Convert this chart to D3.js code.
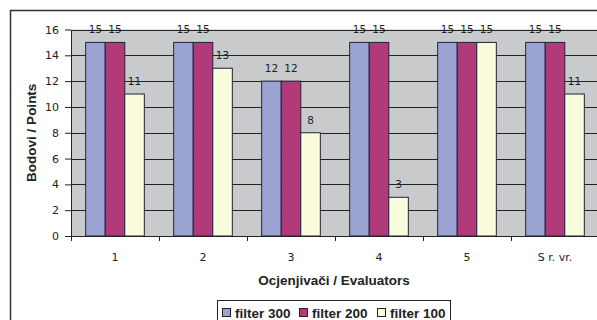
<!DOCTYPE html>
<html>
<head>
<meta charset="utf-8">
<script src="https://cdn.jsdelivr.net/npm/d3@7"></script>
<style>
  body { margin: 0; background: #fff; }
  svg { display: block; }
</style>
</head>
<body>
<svg id="chart" width="597" height="320"></svg>
<script>
// Evaluator scores per filter setting
const categories = ["1", "2", "3", "4", "5", "S r. vr."];
const seriesNames = ["filter 300", "filter 200", "filter 100"];
const filter300 = [15, 15, 12, 15, 15, 15];
const filter200 = [15, 15, 12, 15, 15, 15];
const filter100 = [11, 13, 8, 3, 15, 11];
const yTicks = [0, 2, 4, 6, 8, 10, 12, 14, 16];
const seriesColors = ["#9BA3D3", "#B33A78", "#FAFADC"];

const series = [filter300, filter200, filter100];
const svg = d3.select("#chart");

const plot = { left: 71, right: 599, top: 29.5, bottom: 236 };
const labelFont = "DejaVu Sans, Verdana, sans-serif";
const titleFont = "Liberation Sans, Arial, sans-serif";

// Outer chart frame (runs past the visible area on right/bottom)
svg.append("rect")
  .attr("x", 10.5).attr("y", 10.5)
  .attr("width", 620).attr("height", 340)
  .attr("fill", "#fff").attr("stroke", "#333").attr("stroke-width", 1.5);

const x0 = d3.scaleBand().domain(categories).range([plot.left, plot.right]).paddingInner(0).paddingOuter(0);
const x1 = d3.scaleBand().domain(seriesNames).range([0, x0.bandwidth()]).paddingInner(0).paddingOuter(0.75);
const y = d3.scaleLinear().domain([0, 16]).range([plot.bottom, plot.top]);

// Plot background
svg.append("rect")
  .attr("x", plot.left).attr("y", plot.top)
  .attr("width", plot.right - plot.left).attr("height", plot.bottom - plot.top)
  .attr("fill", "#C8CACC");

// Horizontal gridlines
svg.append("g").selectAll("line").data(yTicks.filter(d => d > 0)).join("line")
  .attr("x1", plot.left).attr("x2", plot.right)
  .attr("y1", d => Math.round(y(d)) + 0.5).attr("y2", d => Math.round(y(d)) + 0.5)
  .attr("stroke", "#222").attr("stroke-width", 1);

// Bars with value labels
const groups = svg.append("g").selectAll("g").data(categories).join("g")
  .attr("transform", d => `translate(${x0(d)},0)`);

groups.each(function(cat, ci) {
  const g = d3.select(this);
  seriesNames.forEach((name, si) => {
    const v = series[si][ci];
    g.append("rect")
      .attr("x", x1(name))
      .attr("y", y(v))
      .attr("width", x1.bandwidth())
      .attr("height", y(0) - y(v))
      .attr("fill", seriesColors[si])
      .attr("stroke", "#22223a").attr("stroke-width", 1);
    g.append("text")
      .attr("x", x1(name) + x1.bandwidth() / 2)
      .attr("y", y(v) - 9)
      .attr("text-anchor", "middle")
      .attr("font-family", labelFont)
      .attr("font-size", 10.5)
      .attr("fill", "#222")
      .text(v);
  });
});

// Y axis
const yAxis = svg.append("g")
  .attr("transform", `translate(${plot.left},0)`)
  .call(d3.axisLeft(y).tickValues(yTicks).tickSize(6).tickSizeOuter(0));
yAxis.select(".domain").attr("stroke", "#222");
yAxis.selectAll("line").attr("stroke", "#222");
yAxis.selectAll("text")
  .attr("font-family", labelFont)
  .attr("font-size", 11).attr("fill", "#222").attr("x", -12);

// X axis
const xAxis = svg.append("g")
  .attr("transform", `translate(0,${plot.bottom})`)
  .call(d3.axisBottom(x0).tickSize(0).tickSizeOuter(0));
xAxis.select(".domain").attr("stroke", "#222");
xAxis.selectAll("text")
  .attr("font-family", labelFont)
  .attr("font-size", 11).attr("fill", "#222")
  .attr("y", 17).attr("dy", "0.71em");
// Tick marks between categories
svg.append("g").selectAll("line").data(categories).join("line")
  .attr("x1", d => Math.round(x0(d)) + 0.5).attr("x2", d => Math.round(x0(d)) + 0.5)
  .attr("y1", plot.bottom).attr("y2", plot.bottom + 5)
  .attr("stroke", "#222");

// Axis titles
svg.append("text")
  .attr("x", (plot.left + plot.right) / 2 - 1).attr("y", 285)
  .attr("text-anchor", "middle")
  .attr("font-family", titleFont)
  .attr("font-weight", "bold").attr("font-size", 13.5).attr("fill", "#222")
  .text("Ocjenjivači / Evaluators");

svg.append("text")
  .attr("transform", `translate(36,${(plot.top + plot.bottom) / 2}) rotate(-90)`)
  .attr("text-anchor", "middle")
  .attr("font-family", titleFont)
  .attr("font-weight", "bold").attr("font-size", 13.5).attr("fill", "#222")
  .text("Bodovi / Points");

// Legend
const legend = svg.append("g");
legend.append("rect")
  .attr("x", 217.5).attr("y", 300.5).attr("width", 233).attr("height", 30)
  .attr("fill", "#fff").attr("stroke", "#222").attr("stroke-width", 1);
const legendX = [222, 299, 377];
seriesNames.forEach((name, i) => {
  legend.append("rect")
    .attr("x", legendX[i] + 0.5).attr("y", 308.5).attr("width", 8).attr("height", 8)
    .attr("fill", seriesColors[i]).attr("stroke", "#222");
  legend.append("text")
    .attr("x", legendX[i] + 13).attr("y", 317.5)
    .attr("font-family", titleFont)
    .attr("font-weight", "bold").attr("font-size", 13.5).attr("fill", "#222")
    .text(name);
});
</script>
</body>
</html>
